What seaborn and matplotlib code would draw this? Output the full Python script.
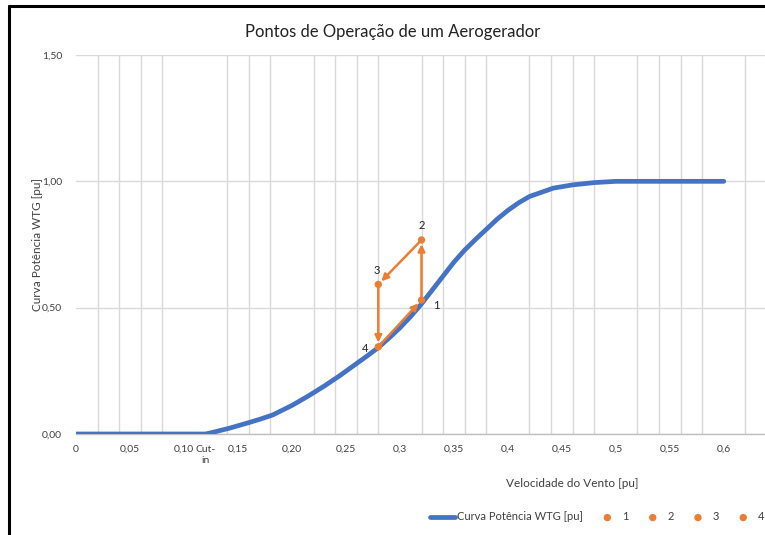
import matplotlib
matplotlib.use("Agg")
import matplotlib.pyplot as plt
from matplotlib.lines import Line2D
from matplotlib.ticker import MultipleLocator
import pandas as pd
import seaborn as sns

# Curva de potencia do aerogerador
vento = [0, 0.05, 0.10, 0.12, 0.13, 0.143, 0.16, 0.17, 0.182, 0.20, 0.215, 0.23, 0.244,
         0.257, 0.27, 0.28, 0.29, 0.30, 0.31, 0.32, 0.33, 0.34, 0.35, 0.36, 0.37, 0.38,
         0.39, 0.40, 0.41, 0.42, 0.442, 0.46, 0.48, 0.50, 0.55, 0.60]
potencia = [0, 0, 0, 0, 0.01, 0.024, 0.045, 0.058, 0.075, 0.113, 0.15, 0.19, 0.23,
            0.27, 0.31, 0.342, 0.38, 0.42, 0.465, 0.515, 0.57, 0.625, 0.68, 0.728, 0.77,
            0.81, 0.85, 0.885, 0.915, 0.94, 0.973, 0.986, 0.995, 1.0, 1.0, 1.0]

# Pontos de operacao
pontos_nome = ["1", "2", "3", "4"]
pontos_v = [0.32, 0.32, 0.28, 0.28]
pontos_p = [0.53, 0.768, 0.592, 0.345]

# Eixo x
xtick_vals = [0, 0.05, 0.10, 0.12, 0.15, 0.20, 0.25, 0.30, 0.35, 0.40, 0.45, 0.50, 0.55, 0.60]
xtick_labels = ["0", "0,05", "0,10", "Cut-\nin", "0,15", "0,20", "0,25", "0,3",
                "0,35", "0,4", "0,45", "0,5", "0,55", "0,6"]
ytick_vals = [0, 0.5, 1.0, 1.5]
ytick_labels = ["0,00", "0,50", "1,00", "1,50"]

sns.set_theme(style="white")
plt.rcParams["font.family"] = ["Lato", "DejaVu Sans"]

azul = "#4472C4"
laranja = "#ED7D31"
texto = "#404040"

fig = plt.figure(figsize=(7.65, 5.35), dpi=100)
ax = fig.add_axes([76 / 765, 1 - 434 / 535, 691 / 765, 379 / 535])

df = pd.DataFrame({"v": vento, "p": potencia})
sns.lineplot(data=df, x="v", y="p", ax=ax, color=azul, linewidth=3.4,
             sort=False, estimator=None, label="Curva Potência WTG [pu]", zorder=3)

# setas do ciclo 4 -> 1 -> 2 -> 3 -> 4
ordem = [3, 0, 1, 2, 3]
for a, b in zip(ordem[:-1], ordem[1:]):
    x0, y0 = pontos_v[a], pontos_p[a]
    x1, y1 = pontos_v[b], pontos_p[b]
    # encurta um pouco a ponta da seta
    fx = x0 + (x1 - x0) * 0.93
    fy = y0 + (y1 - y0) * 0.93
    ax.annotate("", xy=(fx, fy), xytext=(x0, y0),
                arrowprops=dict(arrowstyle="-|>", color=laranja, lw=1.8,
                                mutation_scale=10, shrinkA=0, shrinkB=0),
                zorder=4)

for nome, v, p in zip(pontos_nome, pontos_v, pontos_p):
    sns.scatterplot(x=[v], y=[p], ax=ax, color=laranja, s=28, edgecolor="none",
                    label=nome, zorder=5)

offsets = {"1": (0.011, -0.02, "left", "center"), "2": (0.0, 0.035, "center", "bottom"),
           "3": (-0.001, 0.035, "center", "bottom"), "4": (-0.009, -0.005, "right", "center")}
for nome, v, p in zip(pontos_nome, pontos_v, pontos_p):
    dx, dy, ha, va = offsets[nome]
    ax.text(v + dx, p + dy, nome, fontsize=8, color="#222222", ha=ha, va=va)

ax.set_xlim(0, 0.64)
ax.set_ylim(0, 1.5)
ax.set_xticks(xtick_vals)
ax.set_xticklabels(xtick_labels, fontsize=7.5, color=texto)
ax.set_yticks(ytick_vals)
ax.set_yticklabels(ytick_labels, fontsize=7.5, color=texto)
ax.xaxis.set_minor_locator(MultipleLocator(0.02))
ax.tick_params(axis="both", which="both", length=0)
ax.tick_params(axis="x", pad=8)
ax.tick_params(axis="y", pad=10)
ax.grid(False)
ax.grid(axis="x", which="minor", color="#D9D9D9", linewidth=1)
ax.grid(axis="y", which="major", color="#D9D9D9", linewidth=1)
for s in ["left", "top", "right"]:
    ax.spines[s].set_visible(False)
ax.spines["bottom"].set_color("#BFBFBF")
ax.spines["bottom"].set_linewidth(1)

ax.set_xlabel("Velocidade do Vento [pu]", fontsize=8.5, color=texto)
ax.xaxis.set_label_coords(0.718, -0.115)
ax.set_ylabel("Curva Potência WTG [pu]", fontsize=8.5, color=texto)
ax.yaxis.set_label_coords(-0.048, 0.5)

fig.text(393 / 765, 1 - 32 / 535, "Pontos de Operação de um Aerogerador",
         fontsize=12, color="#222222", ha="center", va="center")

handles, labels = ax.get_legend_handles_labels()
ax.get_legend().remove()
handles[0] = Line2D([], [], color=azul, linewidth=3.4)
fig.legend(handles, labels, loc="center", bbox_to_anchor=(597 / 765, 1 - 517 / 535),
           ncol=5, frameon=False, fontsize=8, handlelength=2.3, handletextpad=0.15,
           columnspacing=1.05, labelcolor=texto)

# borda da captura
fig.add_artist(Line2D([9 / 765, 9 / 765], [0, 1 - 6 / 535], color="black", linewidth=2.2))
fig.add_artist(Line2D([9 / 765, 1], [1 - 6 / 535, 1 - 6 / 535], color="black", linewidth=2.2))

fig.savefig("out.png", dpi=100, facecolor="white")
